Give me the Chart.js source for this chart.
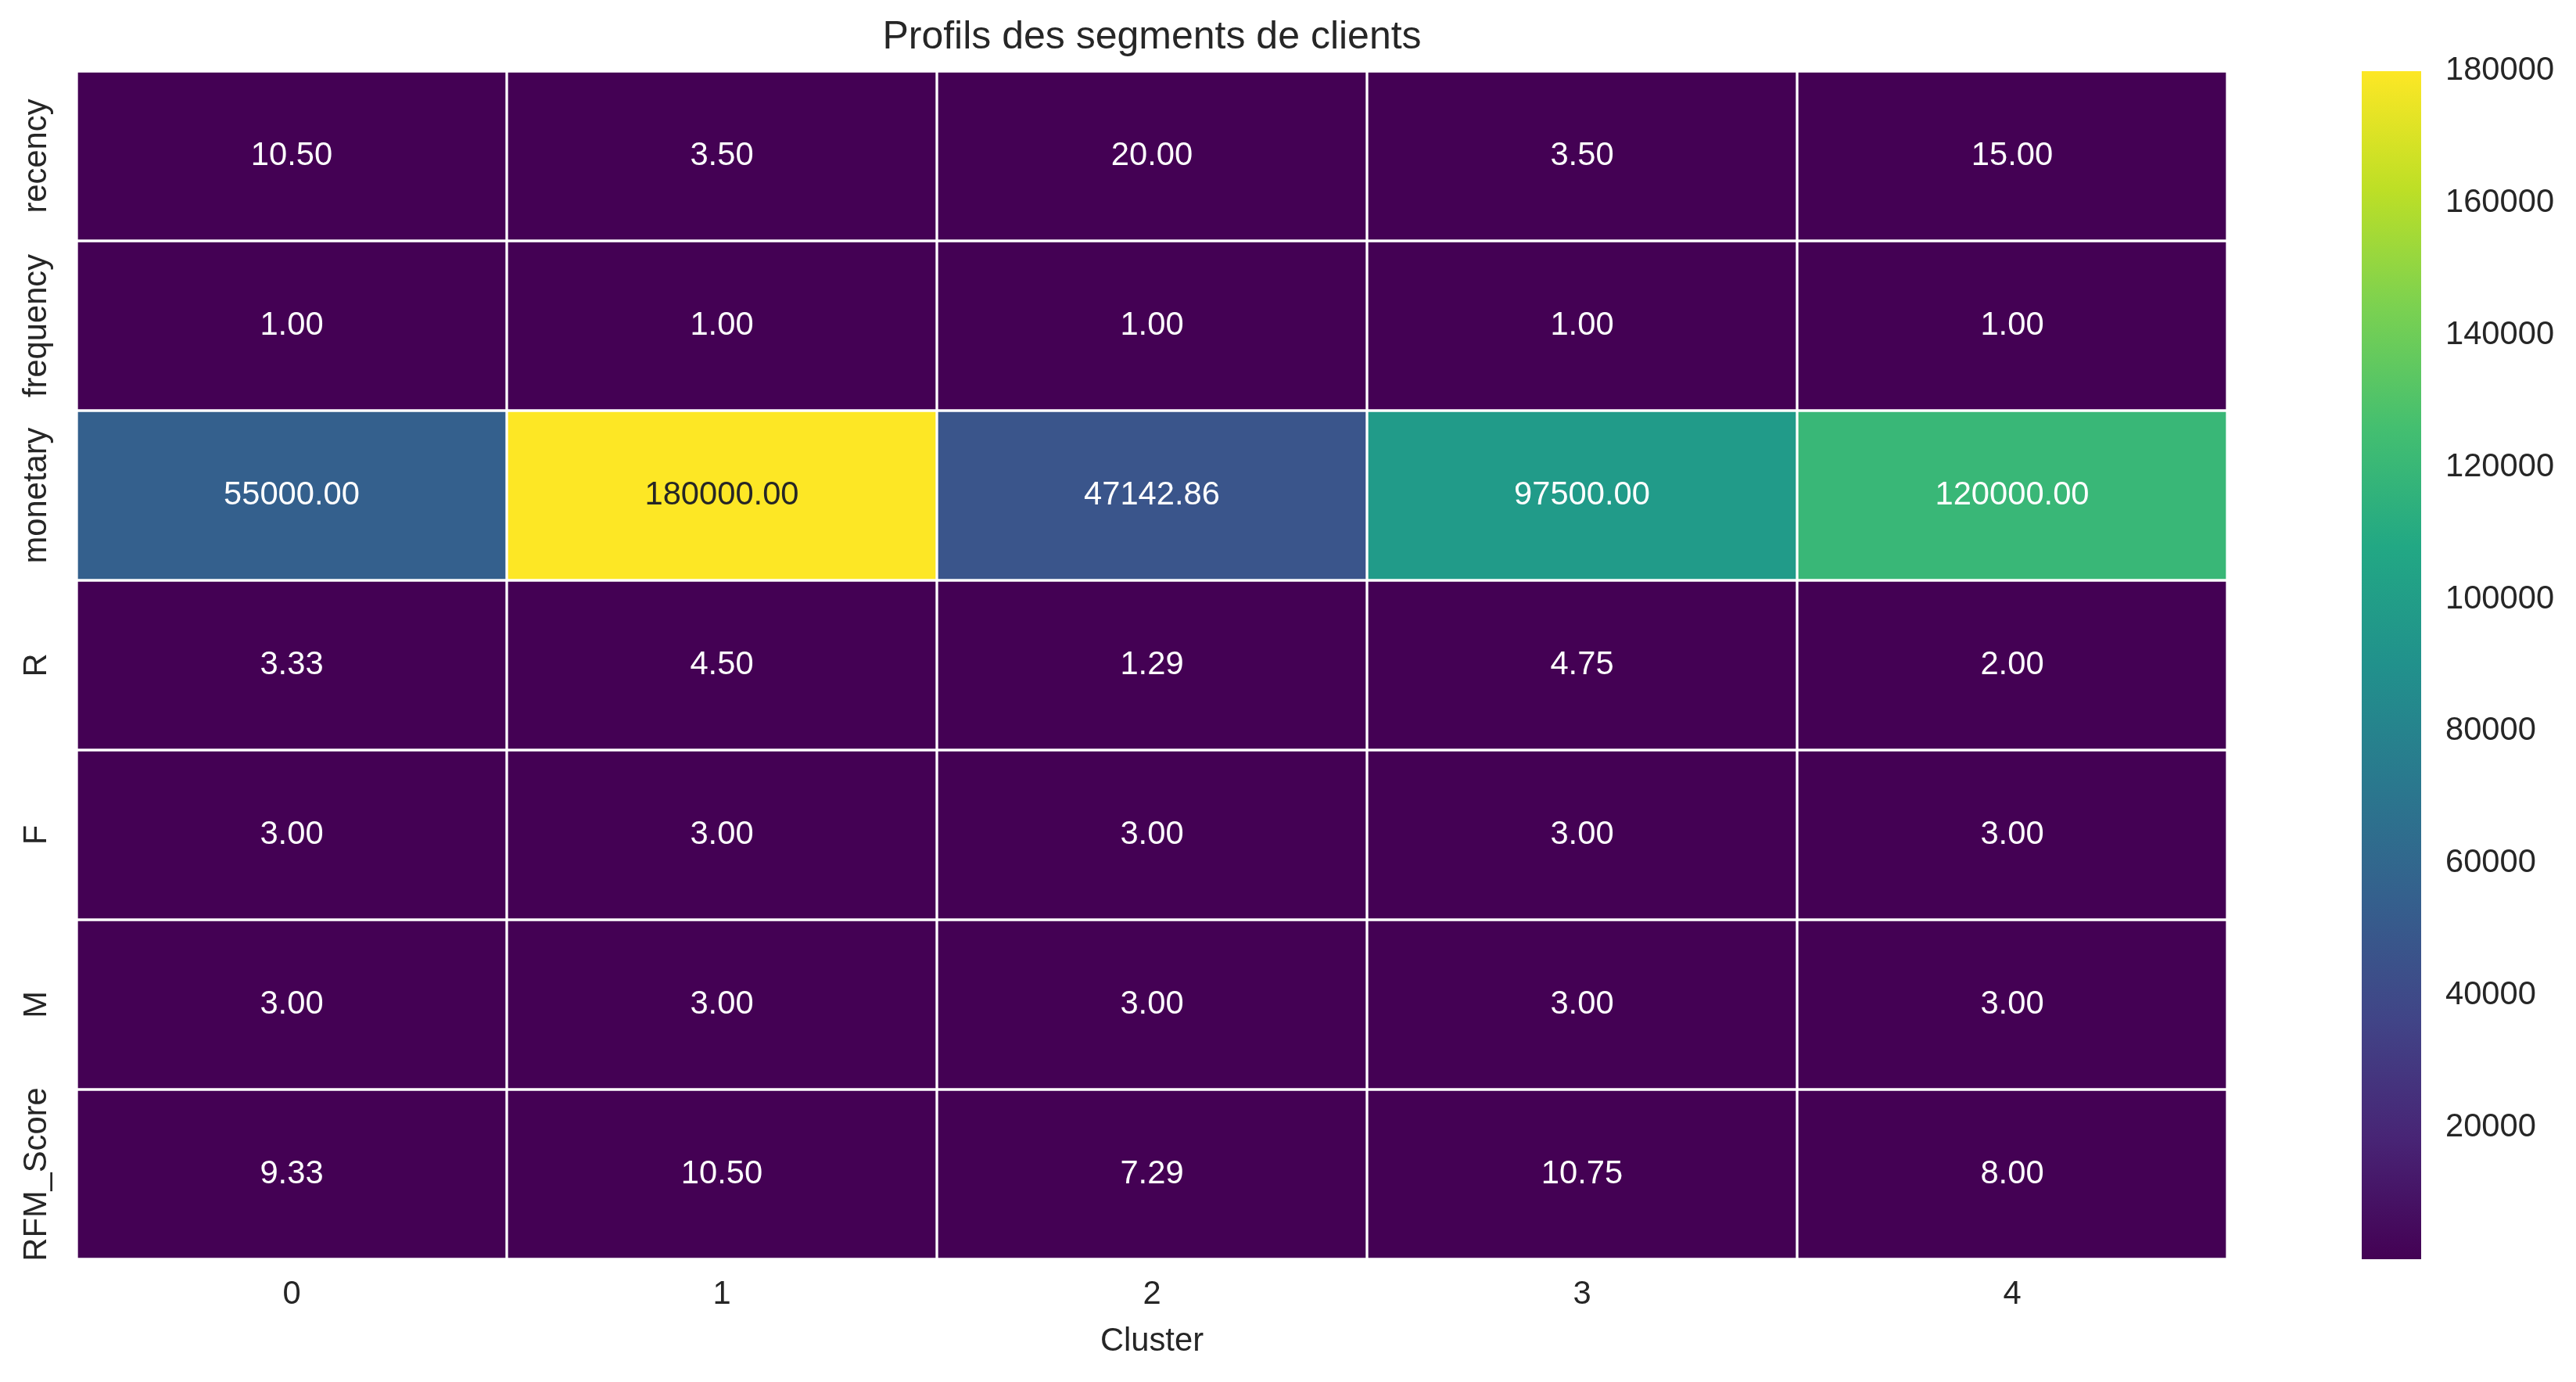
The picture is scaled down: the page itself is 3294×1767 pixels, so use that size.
<!DOCTYPE html>
<html>
<head>
<meta charset="utf-8">
<title>Profils des segments de clients</title>
<script src="https://cdn.jsdelivr.net/npm/chart.js@4/dist/chart.umd.min.js"></script>
<style>
    html, body { margin: 0; padding: 0; background: #ffffff; }
    #wrap { position: relative; width: 3294px; height: 1767px; }
    #heatmap { position: absolute; left: 0; top: 0; }
    #colorbar { position: absolute; left: 3000px; top: 0; }
</style>
</head>
<body>
<div id="wrap">
    <canvas id="heatmap" width="3294" height="1767"></canvas>
    <canvas id="colorbar" width="294" height="1767"></canvas>
</div>
<script>
// Cluster profiles (mean per cluster)
const clusters = ['0', '1', '2', '3', '4'];
const rowLabels = ['recency', 'frequency', 'monetary', 'R', 'F', 'M', 'RFM_Score'];

const recency = [10.50, 3.50, 20.00, 3.50, 15.00];
const frequency = [1.00, 1.00, 1.00, 1.00, 1.00];
const monetary = [55000.00, 180000.00, 47142.86, 97500.00, 120000.00];
const R = [3.33, 4.50, 1.29, 4.75, 2.00];
const F = [3.00, 3.00, 3.00, 3.00, 3.00];
const M = [3.00, 3.00, 3.00, 3.00, 3.00];
const RFM_Score = [9.33, 10.50, 7.29, 10.75, 8.00];

const colorbarTicks = [20000, 40000, 60000, 80000, 100000, 120000, 140000, 160000, 180000];

const rows = [recency, frequency, monetary, R, F, M, RFM_Score];

const TEXT_DARK = '#262626';
const FONT = "'Liberation Sans', Arial, sans-serif";
const FONT_SIZE = 41.7;

// viridis colormap, sampled every 0.1
const VIRIDIS = [
    [68, 1, 84], [72, 36, 117], [65, 68, 135], [53, 95, 141], [42, 120, 142],
    [33, 145, 140], [34, 168, 132], [68, 191, 112], [122, 209, 81], [189, 223, 38],
    [253, 231, 37]
];

const allValues = rows.flat();
const vmin = Math.min(...allValues);
const vmax = Math.max(...allValues);

function viridis(t) {
    t = Math.max(0, Math.min(1, t));
    const pos = t * (VIRIDIS.length - 1);
    const i = Math.min(Math.floor(pos), VIRIDIS.length - 2);
    const f = pos - i;
    const a = VIRIDIS[i], b = VIRIDIS[i + 1];
    return [0, 1, 2].map(k => Math.round(a[k] + (b[k] - a[k]) * f));
}

function rgbStr(c) {
    return `rgb(${c[0]}, ${c[1]}, ${c[2]})`;
}

function cellColor(v) {
    return viridis((v - vmin) / (vmax - vmin));
}

// same rule seaborn uses to pick the annotation colour
function luminance(c) {
    const lin = c.map(x => {
        x = x / 255;
        return x <= 0.03928 ? x / 12.92 : Math.pow((x + 0.055) / 1.055, 2.4);
    });
    return 0.2126 * lin[0] + 0.7152 * lin[1] + 0.0722 * lin[2];
}

// one stacked dataset per row, each cell one unit high
const datasets = rows.map((vals, i) => ({
    label: rowLabels[i],
    data: vals.map(() => 1),
    backgroundColor: vals.map(v => rgbStr(cellColor(v))),
    borderColor: '#ffffff',
    borderWidth: 2,
    borderSkipped: false,
    barPercentage: 1,
    categoryPercentage: 1
}));

// write the values inside the cells
const cellLabels = {
    id: 'cellLabels',
    afterDatasetsDraw(chart) {
        const ctx = chart.ctx;
        ctx.save();
        ctx.font = `${FONT_SIZE}px ${FONT}`;
        ctx.textAlign = 'center';
        ctx.textBaseline = 'middle';
        rows.forEach((vals, i) => {
            const meta = chart.getDatasetMeta(i);
            meta.data.forEach((bar, j) => {
                const p = bar.getProps(['x', 'y', 'base'], true);
                const c = cellColor(vals[j]);
                ctx.fillStyle = luminance(c) > 0.408 ? TEXT_DARK : '#ffffff';
                ctx.fillText(vals[j].toFixed(2), p.x, (p.y + p.base) / 2);
            });
        });
        ctx.restore();
    }
};

// rotated row labels on the left
const rowTickLabels = {
    id: 'rowTickLabels',
    afterDraw(chart) {
        const ctx = chart.ctx;
        const yScale = chart.scales.y;
        ctx.save();
        ctx.font = `${FONT_SIZE}px ${FONT}`;
        ctx.fillStyle = TEXT_DARK;
        ctx.textAlign = 'center';
        ctx.textBaseline = 'alphabetic';
        rowLabels.forEach((lab, i) => {
            ctx.save();
            ctx.translate(59, yScale.getPixelForValue(i + 0.5));
            ctx.rotate(-Math.PI / 2);
            ctx.fillText(lab, 0, 0);
            ctx.restore();
        });
        ctx.restore();
    }
};

new Chart(document.getElementById('heatmap'), {
    type: 'bar',
    data: { labels: clusters, datasets: datasets },
    options: {
        responsive: false,
        animation: false,
        devicePixelRatio: 1,
        layout: { padding: { left: 98, right: 446, top: 0, bottom: 0 } },
        scales: {
            x: {
                stacked: true,
                grid: { display: false, drawTicks: false },
                border: { display: false },
                ticks: { color: TEXT_DARK, font: { family: FONT, size: FONT_SIZE }, padding: 20 },
                title: {
                    display: true,
                    text: 'Cluster',
                    color: TEXT_DARK,
                    font: { family: FONT, size: FONT_SIZE },
                    padding: { top: 5, bottom: 26 }
                },
                afterFit: axis => { axis.height = 157; }
            },
            y: {
                display: false,
                stacked: true,
                reverse: true,
                min: 0,
                max: rowLabels.length
            }
        },
        plugins: {
            legend: { display: false },
            tooltip: { enabled: false },
            title: {
                display: true,
                text: 'Profils des segments de clients',
                color: TEXT_DARK,
                font: { family: FONT, size: 50, weight: 'normal' },
                padding: { top: 18, bottom: 13 }
            }
        }
    },
    plugins: [cellLabels, rowTickLabels]
});

// colour bar: one floating bar filled with the colormap
function colorbarFill(context) {
    const chart = context.chart;
    const area = chart.chartArea;
    if (!area) return rgbStr(VIRIDIS[0]);
    const g = chart.ctx.createLinearGradient(0, area.bottom, 0, area.top);
    VIRIDIS.forEach((c, i) => g.addColorStop(i / (VIRIDIS.length - 1), rgbStr(c)));
    return g;
}

new Chart(document.getElementById('colorbar'), {
    type: 'bar',
    data: {
        labels: [''],
        datasets: [{
            data: [[vmin, vmax]],
            backgroundColor: colorbarFill,
            borderWidth: 0,
            barPercentage: 1,
            categoryPercentage: 1
        }]
    },
    options: {
        responsive: false,
        animation: false,
        devicePixelRatio: 1,
        layout: { padding: { left: 20, right: 0, top: 91, bottom: 157 } },
        scales: {
            x: { display: false },
            y: {
                position: 'right',
                min: vmin,
                max: vmax,
                grid: { display: false, drawTicks: false },
                border: { display: false },
                ticks: {
                    color: TEXT_DARK,
                    font: { family: FONT, size: FONT_SIZE },
                    padding: 31,
                    callback: v => String(v)
                },
                afterBuildTicks: axis => { axis.ticks = colorbarTicks.map(v => ({ value: v })); },
                afterFit: axis => { axis.width = 198; }
            }
        },
        plugins: {
            legend: { display: false },
            tooltip: { enabled: false }
        }
    }
});
</script>
</body>
</html>
